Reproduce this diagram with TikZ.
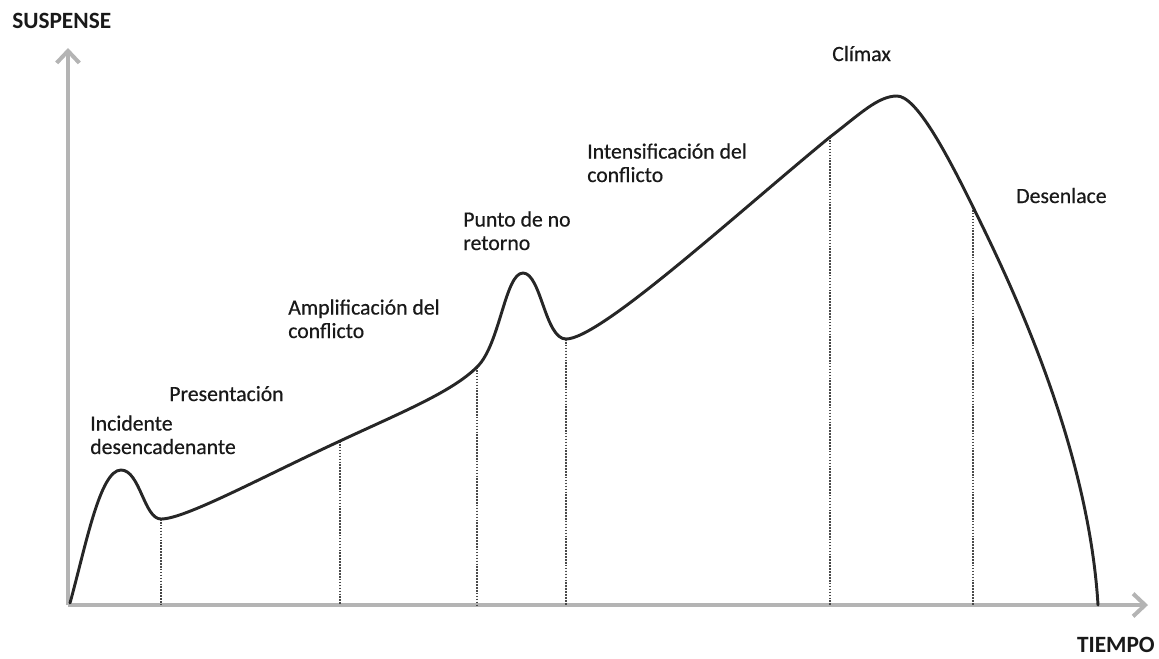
\documentclass[tikz,border=0pt]{standalone}
\usepackage{fontspec}
\setmainfont{Carlito}
\newfontfamily\lblfont{Carlito}[FakeBold=0.5]
\usetikzlibrary{arrows.meta}
\definecolor{axisgray}{HTML}{B4B4B4}
\definecolor{dotgray}{HTML}{4A4A4A}
\tikzset{
  axisline/.style={draw=axisgray, line width=3pt, -{Straight Barb[length=9pt,width=17pt,line width=3pt]}},
  plotcurve/.style={draw=black!85, line width=2.2pt, line join=round, line cap=round},
  dropline/.style={draw=dotgray, line width=2pt, dash pattern=on 1.2pt off 1pt},
  lbl/.style={font=\lblfont\fontsize{16.3}{17.6}\selectfont, text=black!90, inner sep=0pt, align=left, anchor=base west},
  axlbl/.style={font=\fontsize{17.5}{20}\selectfont\bfseries, text=black!90, inner sep=0pt}
}
\begin{document}
\begin{tikzpicture}[x=0.75pt, y=-0.75pt]
\useasboundingbox (0,0) rectangle (1159,658);
% axes
\coordinate (O) at (68,605);
\coordinate (ytop) at (68,48);
\coordinate (xend) at (1148,605);
\draw[axisline] (O) -- (ytop);
\draw[axisline] (O) -- (xend);
% curve key points
\coordinate (c0) at (70,603);
\coordinate (p1) at (121,470);
\coordinate (d1) at (161,519);
\coordinate (m1) at (340,441);
\coordinate (m2) at (477,367);
\coordinate (p2) at (523,273);
\coordinate (d2) at (566,339);
\coordinate (m3) at (830,137);
\coordinate (p3) at (897,96);
\coordinate (m4) at (973,207);
\coordinate (c9) at (1098,605);
% base points on the time axis
\coordinate (b1) at (161,605);
\coordinate (b2) at (340,605);
\coordinate (b3) at (477,605);
\coordinate (b4) at (566,605);
\coordinate (b5) at (830,605);
\coordinate (b6) at (973,605);
% dotted drop lines
\draw[dropline] (d1) -- (b1);
\draw[dropline] (m1) -- (b2);
\draw[dropline] (m2) -- (b3);
\draw[dropline] (d2) -- (b4);
\draw[dropline] (m3) -- (b5);
\draw[dropline] (m4) -- (b6);
% the suspense curve
\draw[plotcurve] (c0)
  .. controls (86,545) and (100,470) .. (p1)
  .. controls (140,470) and (144,519) .. (d1)
  .. controls (185,519) and (260,478) .. (m1)
  .. controls (400,413) and (452,392) .. (m2)
  .. controls (500,345) and (505,273) .. (p2)
  .. controls (541,273) and (545,339) .. (d2)
  .. controls (600,339) and (735,215) .. (m3)
  .. controls (860,114) and (878,96) .. (p3)
  .. controls (916,96) and (946,152) .. (m4)
  .. controls (1005,272) and (1088,440) .. (c9);
% labels
\node[axlbl, anchor=base west] (suspense) at (12,28) {SUSPENSE};
\node[axlbl, anchor=base east] (tiempo) at (1155,652) {TIEMPO};
\node[lbl] (incidente) at (90,454) {Incidente\\desencadenante};
\node[lbl] (presentacion) at (169,401) {Presentación};
\node[lbl] (amplificacion) at (288,338) {Amplificación del\\conflicto};
\node[lbl] (punto) at (463,250) {Punto de no\\retorno};
\node[lbl] (intensificacion) at (587,182) {Intensificación del\\conflicto};
\node[lbl] (climax) at (832,61) {Clímax};
\node[lbl] (desenlace) at (1016,203) {Desenlace};
\end{tikzpicture}
\end{document}
